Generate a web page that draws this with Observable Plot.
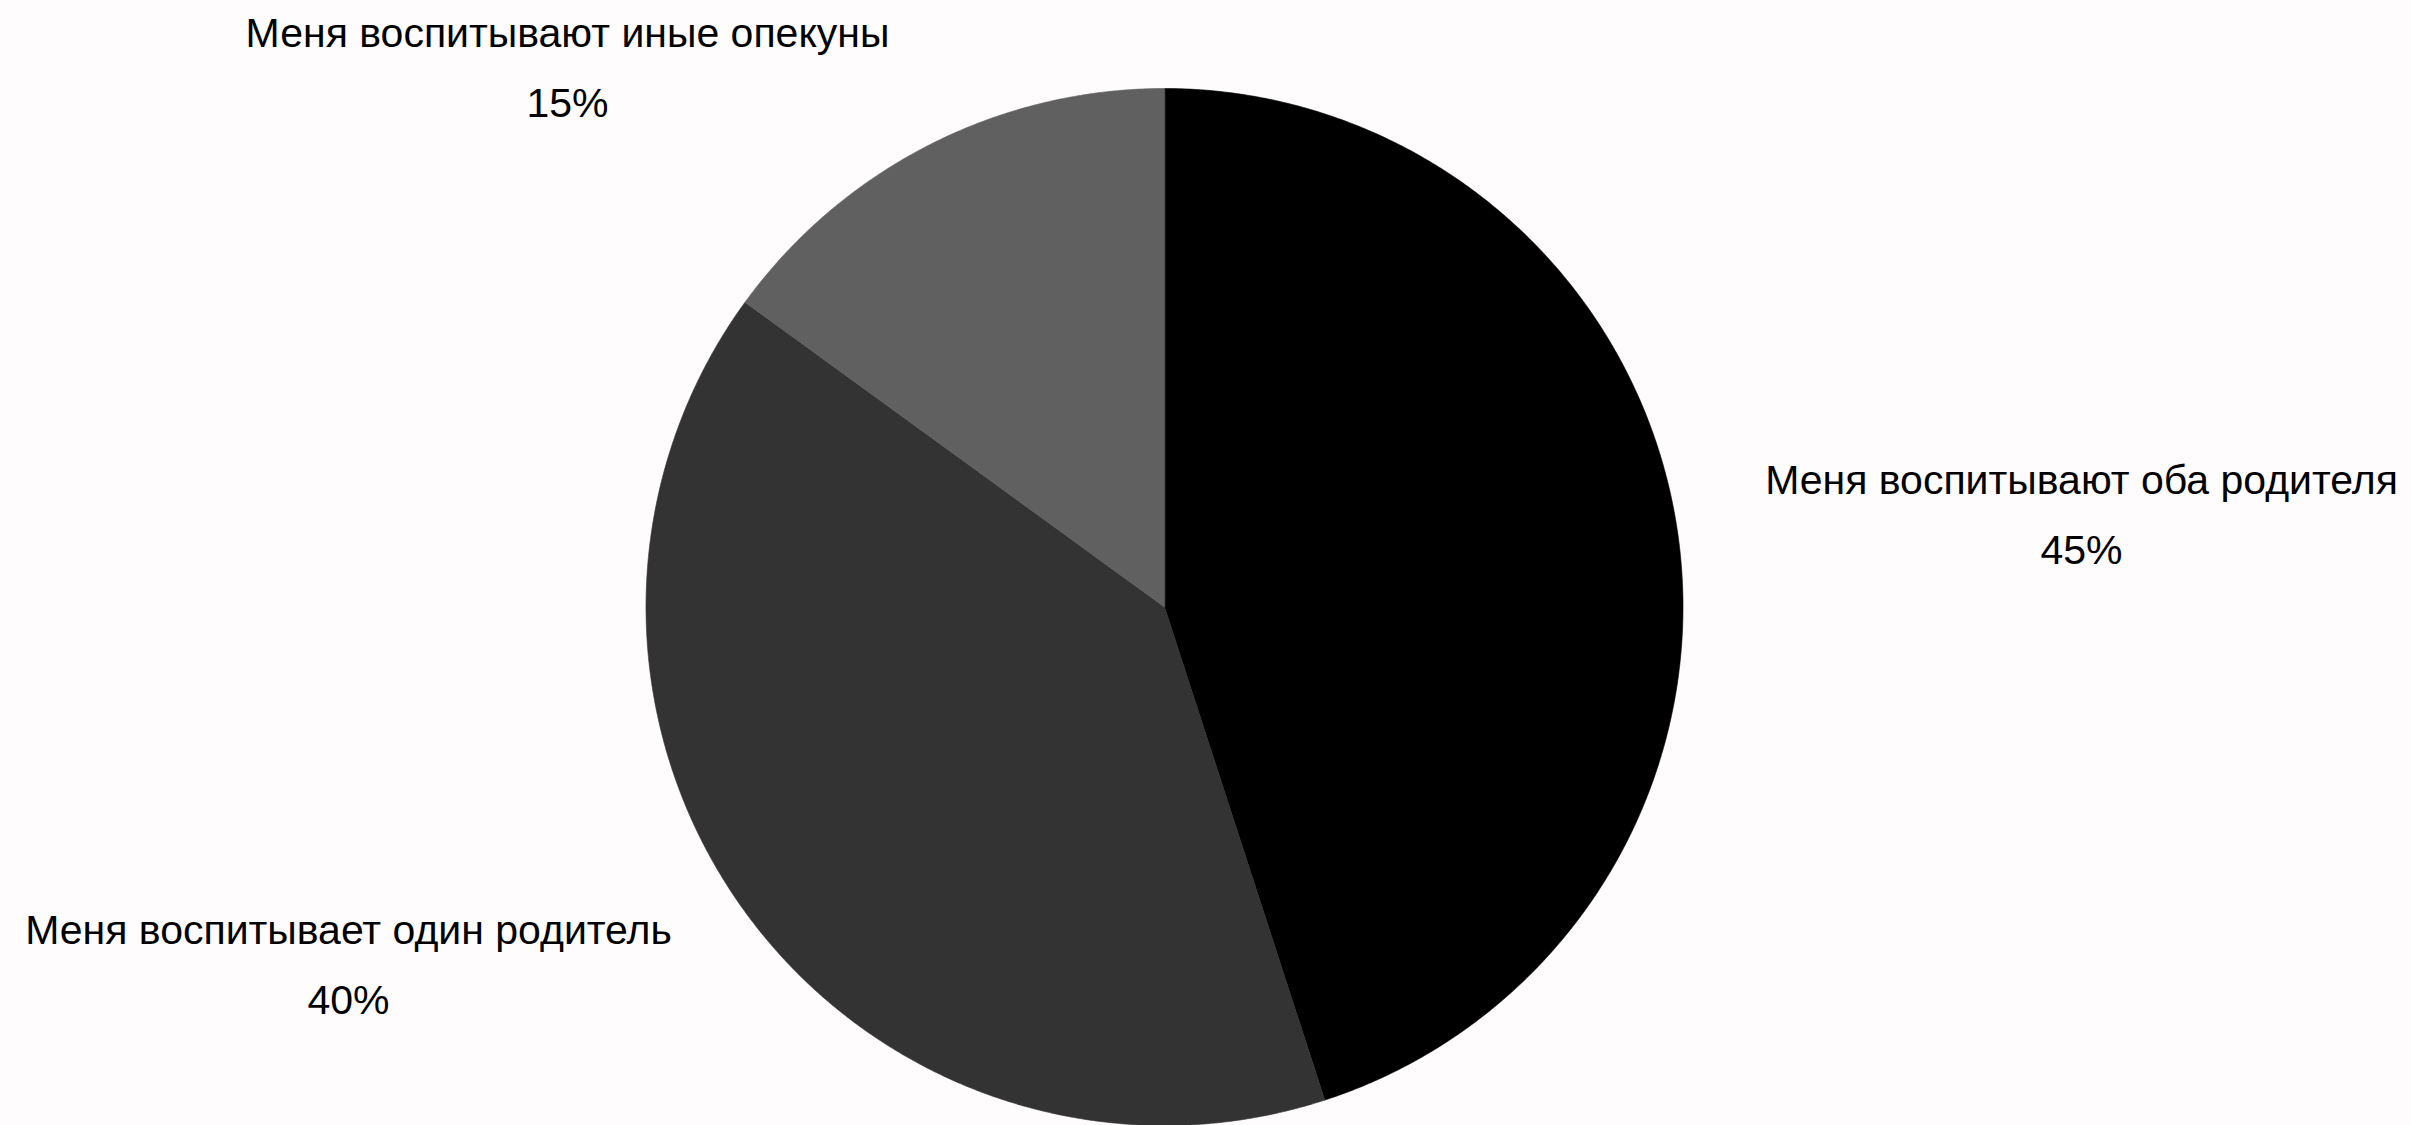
<!DOCTYPE html>
<html><head><meta charset="utf-8">
<script src="https://cdn.jsdelivr.net/npm/d3@7"></script>
<script src="https://cdn.jsdelivr.net/npm/@observablehq/plot@0.6"></script>
<style>
html,body{margin:0;padding:0;background:#fefcfc;overflow:hidden;}
#chart svg{display:block;}
</style></head><body><div id="chart"></div>
<script>
// ---- data ----
const categories = ["Меня воспитывают оба родителя", "Меня воспитывает один родитель", "Меня воспитывают иные опекуны"];
const shares = [45, 40, 15];
const sliceColors = ["#000000", "#333333", "#606060"];

// ---- layout ----
const W = 2411, H = 1125;
const R = 518.5, CX = 1164, CY = 606.5;
// label anchor (text centre x, first-line baseline y) in page pixels
const labelPx = [[2081, 493], [348, 943], [567, 46]];
const lineGap = 70;
const fontSize = 41;

const toUnit = ([px, py]) => [(px - CX) / R, (CY - py) / R];

const arcs = d3.pie().sort(null).value(d => d)(shares);
const slicePts = [];
arcs.forEach((a, i) => {
  const n = Math.max(8, Math.ceil((a.endAngle - a.startAngle) / (2 * Math.PI) * 900));
  slicePts.push({cat: categories[i], x: 0, y: 0});
  for (let k = 0; k <= n; k++) {
    const t = a.startAngle + (a.endAngle - a.startAngle) * k / n;
    slicePts.push({cat: categories[i], x: Math.sin(t), y: Math.cos(t)});
  }
});

const labels = categories.map((c, i) => {
  const [x, y] = toUnit(labelPx[i]);
  return {cat: c, pct: shares[i] + "%", x, y};
});

const chart = Plot.plot({
  width: W, height: H,
  marginLeft: CX - R, marginRight: W - CX - R,
  marginTop: CY - R, marginBottom: H - CY - R,
  x: {domain: [-1, 1], axis: null},
  y: {domain: [-1, 1], axis: null},
  color: {domain: categories, range: sliceColors},
  style: {background: "#fefcfc", fontFamily: "'Liberation Sans', Arial, sans-serif"},
  marks: [
    Plot.line(slicePts, {x: "x", y: "y", z: "cat", fill: "cat", stroke: "cat", strokeWidth: 0.6, curve: "linear-closed"}),
    Plot.text(labels, {x: "x", y: "y", text: "cat", fontSize, fill: "#000", textAnchor: "middle", lineAnchor: "bottom", fontFamily: "'Liberation Sans', Arial, sans-serif"}),
    Plot.text(labels, {x: "x", y: "y", text: "pct", dy: lineGap, fontSize, fill: "#000", textAnchor: "middle", lineAnchor: "bottom", fontFamily: "'Liberation Sans', Arial, sans-serif"})
  ]
});
document.getElementById("chart").appendChild(chart);
</script>
</body></html>
